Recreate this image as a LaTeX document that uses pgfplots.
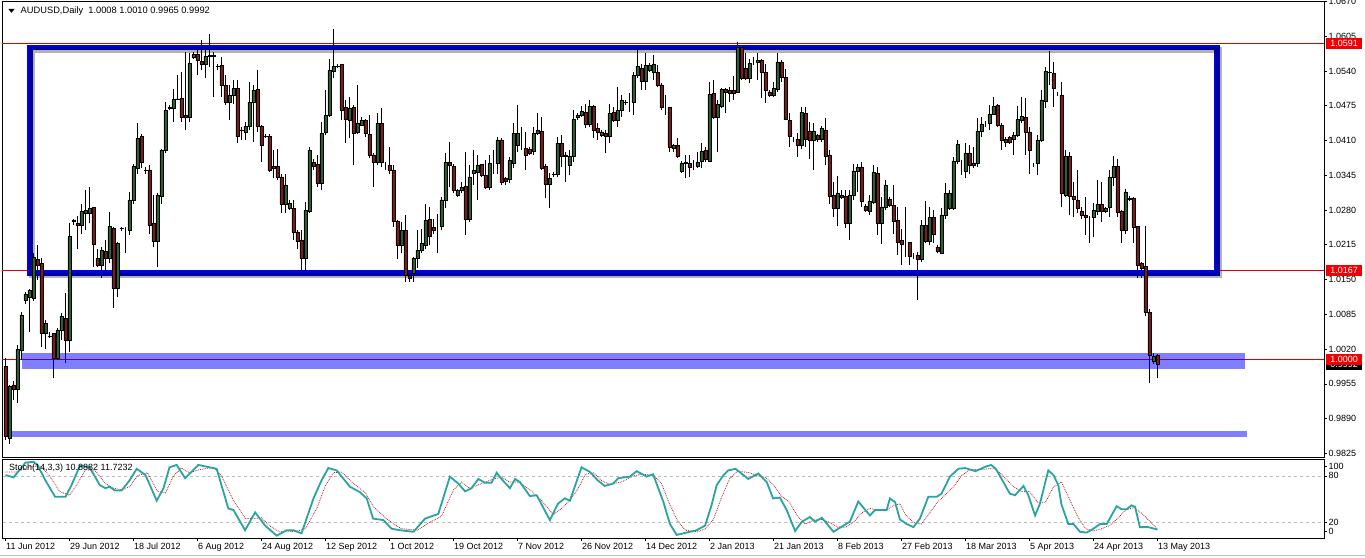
\documentclass[border=0pt]{standalone}
\usepackage{pgfplots}
\pgfplotsset{compat=1.18}
\usepackage{pgfplotstable}
\usepackage{fontspec}
\setmainfont{Liberation Sans}
\definecolor{bull}{RGB}{44,96,46}
\definecolor{bear}{RGB}{132,24,24}
\definecolor{boxblue}{RGB}{0,0,225}
\definecolor{kline}{RGB}{40,165,160}
\definecolor{dline}{RGB}{190,30,30}
\definecolor{lvl}{RGB}{220,0,0}
\definecolor{tagred}{RGB}{240,0,0}

\pgfplotstableread{
i o h l c
0 0.9987 1.0003 0.9850 0.9856
1 0.9854 0.9953 0.9843 0.9951
2 0.9953 0.9961 0.9925 0.9944
3 0.9944 1.0027 0.9919 1.0020
4 1.0018 1.0089 1.0000 1.0084
5 1.0111 1.0126 1.0105 1.0123
6 1.0116 1.0132 1.0051 1.0130
7 1.0115 1.0199 1.0109 1.0192
8 1.0188 1.0215 1.0150 1.0177
9 1.0180 1.0190 1.0024 1.0049
10 1.0049 1.0074 1.0021 1.0068
11 1.0044 1.0051 1.0040 1.0043
12 1.0049 1.0049 0.9965 1.0003
13 1.0003 1.0059 1.0000 1.0056
14 1.0056 1.0087 1.0037 1.0081
15 1.0078 1.0124 0.9993 1.0037
16 1.0037 1.0255 1.0015 1.0230
17 1.0259 1.0264 1.0252 1.0260
18 1.0255 1.0268 1.0208 1.0251
19 1.0251 1.0292 1.0236 1.0277
20 1.0274 1.0317 1.0242 1.0280
21 1.0274 1.0323 1.0255 1.0283
22 1.0285 1.0286 1.0174 1.0215
23 1.0190 1.0208 1.0174 1.0177
24 1.0177 1.0211 1.0152 1.0205
25 1.0202 1.0224 1.0162 1.0190
26 1.0190 1.0277 1.0180 1.0249
27 1.0246 1.0249 1.0096 1.0133
28 1.0133 1.0221 1.0118 1.0218
29 1.0245 1.0249 1.0240 1.0246
30 1.0243 1.0249 1.0199 1.0243
31 1.0243 1.0314 1.0233 1.0299
32 1.0299 1.0367 1.0292 1.0361
33 1.0358 1.0442 1.0348 1.0414
34 1.0417 1.0423 1.0358 1.0370
35 1.0355 1.0361 1.0348 1.0354
36 1.0355 1.0364 1.0236 1.0252
37 1.0255 1.0308 1.0211 1.0221
38 1.0221 1.0311 1.0174 1.0308
39 1.0305 1.0395 1.0292 1.0392
40 1.0392 1.0482 1.0386 1.0467
41 1.0472 1.0476 1.0467 1.0471
42 1.0470 1.0506 1.0445 1.0487
43 1.0487 1.0532 1.0486 1.0488
44 1.0489 1.0538 1.0445 1.0454
45 1.0457 1.0576 1.0429 1.0454
46 1.0454 1.0573 1.0445 1.0554
47 1.0565 1.0576 1.0563 1.0571
48 1.0571 1.0580 1.0532 1.0560
49 1.0558 1.0598 1.0541 1.0552
50 1.0552 1.0580 1.0526 1.0567
51 1.0569 1.0610 1.0548 1.0568
52 1.0567 1.0576 1.0492 1.0569
53 1.0549 1.0554 1.0541 1.0548
54 1.0551 1.0567 1.0492 1.0513
55 1.0513 1.0532 1.0476 1.0482
56 1.0482 1.0513 1.0448 1.0495
57 1.0495 1.0523 1.0479 1.0507
58 1.0507 1.0523 1.0405 1.0417
59 1.0430 1.0436 1.0411 1.0429
60 1.0426 1.0445 1.0411 1.0437
61 1.0437 1.0520 1.0430 1.0482
62 1.0482 1.0513 1.0408 1.0504
63 1.0505 1.0542 1.0426 1.0436
64 1.0436 1.0439 1.0370 1.0401
65 1.0418 1.0423 1.0414 1.0417
66 1.0417 1.0423 1.0352 1.0355
67 1.0361 1.0392 1.0339 1.0358
68 1.0361 1.0395 1.0336 1.0342
69 1.0342 1.0348 1.0274 1.0291
70 1.0291 1.0348 1.0274 1.0327
71 1.0283 1.0299 1.0280 1.0292
72 1.0283 1.0299 1.0224 1.0239
73 1.0239 1.0242 1.0208 1.0221
74 1.0224 1.0242 1.0168 1.0190
75 1.0190 1.0295 1.0168 1.0280
76 1.0277 1.0398 1.0274 1.0392
77 1.0369 1.0375 1.0355 1.0361
78 1.0366 1.0383 1.0324 1.0330
79 1.0330 1.0445 1.0317 1.0423
80 1.0426 1.0504 1.0420 1.0457
81 1.0457 1.0563 1.0454 1.0541
82 1.0540 1.0619 1.0526 1.0548
83 1.0549 1.0554 1.0545 1.0548
84 1.0552 1.0554 1.0448 1.0467
85 1.0472 1.0485 1.0405 1.0449
86 1.0448 1.0492 1.0414 1.0470
87 1.0472 1.0476 1.0364 1.0424
88 1.0426 1.0513 1.0423 1.0443
89 1.0439 1.0454 1.0437 1.0448
90 1.0448 1.0451 1.0417 1.0423
91 1.0422 1.0458 1.0377 1.0383
92 1.0383 1.0386 1.0324 1.0369
93 1.0369 1.0461 1.0364 1.0442
94 1.0442 1.0470 1.0361 1.0369
95 1.0362 1.0370 1.0355 1.0362
96 1.0364 1.0398 1.0348 1.0355
97 1.0355 1.0364 1.0249 1.0258
98 1.0258 1.0261 1.0189 1.0214
99 1.0214 1.0258 1.0199 1.0242
100 1.0242 1.0270 1.0146 1.0158
101 1.0158 1.0161 1.0146 1.0152
102 1.0161 1.0192 1.0146 1.0189
103 1.0189 1.0242 1.0171 1.0205
104 1.0205 1.0245 1.0199 1.0217
105 1.0214 1.0292 1.0208 1.0261
106 1.0262 1.0286 1.0214 1.0230
107 1.0248 1.0264 1.0236 1.0242
108 1.0247 1.0273 1.0199 1.0247
109 1.0249 1.0305 1.0242 1.0299
110 1.0299 1.0386 1.0283 1.0369
111 1.0369 1.0408 1.0323 1.0364
112 1.0362 1.0367 1.0311 1.0317
113 1.0308 1.0320 1.0305 1.0316
114 1.0316 1.0333 1.0311 1.0323
115 1.0325 1.0389 1.0233 1.0262
116 1.0262 1.0364 1.0258 1.0342
117 1.0348 1.0392 1.0327 1.0354
118 1.0351 1.0383 1.0299 1.0364
119 1.0366 1.0367 1.0342 1.0345
120 1.0345 1.0373 1.0320 1.0322
121 1.0322 1.0383 1.0317 1.0367
122 1.0366 1.0392 1.0348 1.0366
123 1.0367 1.0417 1.0348 1.0411
124 1.0411 1.0414 1.0327 1.0331
125 1.0339 1.0342 1.0327 1.0333
126 1.0337 1.0379 1.0330 1.0373
127 1.0367 1.0442 1.0358 1.0424
128 1.0401 1.0476 1.0389 1.0423
129 1.0398 1.0436 1.0392 1.0398
130 1.0395 1.0426 1.0355 1.0383
131 1.0393 1.0398 1.0383 1.0387
132 1.0389 1.0436 1.0383 1.0423
133 1.0423 1.0461 1.0420 1.0429
134 1.0428 1.0454 1.0355 1.0358
135 1.0361 1.0367 1.0302 1.0328
136 1.0328 1.0350 1.0283 1.0339
137 1.0346 1.0351 1.0342 1.0347
138 1.0347 1.0417 1.0342 1.0405
139 1.0405 1.0420 1.0361 1.0381
140 1.0383 1.0389 1.0333 1.0380
141 1.0364 1.0392 1.0345 1.0381
142 1.0381 1.0467 1.0370 1.0449
143 1.0453 1.0462 1.0448 1.0457
144 1.0457 1.0474 1.0454 1.0464
145 1.0462 1.0479 1.0433 1.0441
146 1.0441 1.0486 1.0436 1.0474
147 1.0474 1.0476 1.0414 1.0429
148 1.0433 1.0442 1.0411 1.0426
149 1.0420 1.0430 1.0417 1.0426
150 1.0424 1.0430 1.0386 1.0418
151 1.0418 1.0479 1.0405 1.0461
152 1.0462 1.0473 1.0445 1.0448
153 1.0448 1.0511 1.0436 1.0467
154 1.0467 1.0495 1.0454 1.0486
155 1.0481 1.0486 1.0476 1.0482
156 1.0480 1.0498 1.0464 1.0480
157 1.0482 1.0538 1.0457 1.0532
158 1.0532 1.0580 1.0526 1.0548
159 1.0545 1.0554 1.0504 1.0520
160 1.0520 1.0573 1.0505 1.0551
161 1.0542 1.0555 1.0538 1.0551
162 1.0538 1.0570 1.0523 1.0553
163 1.0538 1.0551 1.0510 1.0514
164 1.0514 1.0517 1.0467 1.0472
165 1.0473 1.0495 1.0457 1.0473
166 1.0472 1.0473 1.0389 1.0398
167 1.0395 1.0404 1.0389 1.0401
168 1.0401 1.0415 1.0377 1.0380
169 1.0353 1.0372 1.0350 1.0367
170 1.0369 1.0383 1.0339 1.0368
171 1.0367 1.0383 1.0342 1.0360
172 1.0362 1.0373 1.0354 1.0362
173 1.0361 1.0389 1.0358 1.0370
174 1.0372 1.0405 1.0358 1.0389
175 1.0392 1.0398 1.0370 1.0375
176 1.0372 1.0520 1.0370 1.0497
177 1.0498 1.0523 1.0451 1.0454
178 1.0454 1.0486 1.0389 1.0478
179 1.0474 1.0509 1.0470 1.0505
180 1.0505 1.0509 1.0462 1.0501
181 1.0504 1.0510 1.0482 1.0499
182 1.0504 1.0530 1.0486 1.0499
183 1.0501 1.0595 1.0498 1.0585
184 1.0585 1.0588 1.0523 1.0526
185 1.0545 1.0573 1.0523 1.0526
186 1.0526 1.0563 1.0517 1.0554
187 1.0556 1.0566 1.0551 1.0556
188 1.0557 1.0574 1.0523 1.0560
189 1.0560 1.0563 1.0489 1.0537
190 1.0538 1.0554 1.0481 1.0503
191 1.0501 1.0504 1.0492 1.0495
192 1.0495 1.0520 1.0492 1.0507
193 1.0505 1.0574 1.0501 1.0557
194 1.0557 1.0560 1.0520 1.0528
195 1.0528 1.0543 1.0448 1.0449
196 1.0447 1.0462 1.0398 1.0418
197 1.0412 1.0417 1.0408 1.0412
198 1.0412 1.0424 1.0380 1.0401
199 1.0401 1.0472 1.0395 1.0462
200 1.0461 1.0472 1.0398 1.0412
201 1.0428 1.0445 1.0375 1.0411
202 1.0411 1.0442 1.0355 1.0428
203 1.0420 1.0423 1.0408 1.0412
204 1.0412 1.0437 1.0408 1.0433
205 1.0430 1.0453 1.0364 1.0381
206 1.0383 1.0393 1.0292 1.0305
207 1.0308 1.0333 1.0267 1.0283
208 1.0283 1.0343 1.0250 1.0312
209 1.0308 1.0317 1.0300 1.0303
210 1.0306 1.0318 1.0246 1.0256
211 1.0256 1.0317 1.0224 1.0308
212 1.0308 1.0367 1.0299 1.0353
213 1.0353 1.0367 1.0314 1.0360
214 1.0360 1.0370 1.0286 1.0296
215 1.0287 1.0291 1.0277 1.0279
216 1.0277 1.0308 1.0271 1.0297
217 1.0295 1.0364 1.0291 1.0350
218 1.0349 1.0361 1.0233 1.0255
219 1.0255 1.0305 1.0217 1.0286
220 1.0286 1.0336 1.0280 1.0327
221 1.0300 1.0305 1.0286 1.0289
222 1.0289 1.0327 1.0236 1.0258
223 1.0260 1.0286 1.0196 1.0219
224 1.0223 1.0244 1.0177 1.0215
225 1.0216 1.0286 1.0193 1.0216
226 1.0219 1.0221 1.0177 1.0194
227 1.0196 1.0199 1.0188 1.0196
228 1.0196 1.0202 1.0112 1.0188
229 1.0188 1.0261 1.0183 1.0252
230 1.0252 1.0297 1.0218 1.0221
231 1.0221 1.0286 1.0214 1.0266
232 1.0266 1.0280 1.0218 1.0235
233 1.0211 1.0214 1.0199 1.0202
234 1.0200 1.0283 1.0199 1.0271
235 1.0271 1.0331 1.0264 1.0311
236 1.0283 1.0317 1.0280 1.0312
237 1.0283 1.0380 1.0280 1.0372
238 1.0372 1.0411 1.0367 1.0403
239 1.0353 1.0374 1.0345 1.0353
240 1.0353 1.0405 1.0339 1.0387
241 1.0387 1.0401 1.0347 1.0364
242 1.0364 1.0398 1.0358 1.0368
243 1.0367 1.0453 1.0361 1.0428
244 1.0428 1.0454 1.0416 1.0441
245 1.0443 1.0447 1.0436 1.0443
246 1.0442 1.0476 1.0430 1.0459
247 1.0459 1.0492 1.0457 1.0474
248 1.0476 1.0478 1.0436 1.0439
249 1.0439 1.0442 1.0392 1.0410
250 1.0412 1.0416 1.0398 1.0406
251 1.0416 1.0418 1.0403 1.0406
252 1.0412 1.0426 1.0383 1.0420
253 1.0420 1.0474 1.0417 1.0449
254 1.0447 1.0492 1.0442 1.0456
255 1.0453 1.0489 1.0383 1.0426
256 1.0426 1.0435 1.0348 1.0392
257 1.0364 1.0368 1.0361 1.0364
258 1.0367 1.0420 1.0345 1.0411
259 1.0411 1.0504 1.0408 1.0486
260 1.0483 1.0548 1.0470 1.0539
261 1.0537 1.0578 1.0514 1.0538
262 1.0535 1.0557 1.0473 1.0507
263 1.0497 1.0501 1.0493 1.0497
264 1.0495 1.0520 1.0286 1.0311
265 1.0308 1.0392 1.0305 1.0381
266 1.0381 1.0389 1.0271 1.0305
267 1.0305 1.0333 1.0267 1.0300
268 1.0299 1.0355 1.0274 1.0283
269 1.0277 1.0286 1.0264 1.0271
270 1.0271 1.0305 1.0233 1.0266
271 1.0267 1.0269 1.0218 1.0267
272 1.0266 1.0294 1.0229 1.0279
273 1.0277 1.0336 1.0271 1.0291
274 1.0291 1.0333 1.0258 1.0277
275 1.0277 1.0286 1.0274 1.0283
276 1.0285 1.0355 1.0267 1.0342
277 1.0341 1.0381 1.0325 1.0362
278 1.0362 1.0376 1.0267 1.0275
279 1.0277 1.0280 1.0218 1.0242
280 1.0242 1.0319 1.0236 1.0314
281 1.0302 1.0306 1.0297 1.0301
282 1.0302 1.0305 1.0218 1.0248
283 1.0249 1.0250 1.0152 1.0177
284 1.0180 1.0183 1.0152 1.0171
285 1.0174 1.0250 1.0081 1.0088
286 1.0088 1.0094 0.9957 1.0009
287 0.9998 1.0012 0.9992 1.0007
288 1.0008 1.0010 0.9965 0.9992
}\candles

\pgfplotstableread{
x k
0 81
2 78
5 97
7 98
8 94
10 74
12.4 53
15 53
16.5 68
18.6 93
21 91
23.6 68
25 64
26 66
27.4 61
29 61
31 74
32.8 89
35 81
37.8 48
39.5 64
41 91
42.8 94
44.9 77
46.5 85
48.2 94
51 91
52.8 89
55.7 38
57 36
59.9 10
62.4 33
64.9 16
67.8 3
70.3 10
72 10
74 6
77 51
79 74
80.7 90
82.8 87
86.1 66
88.6 59
90.3 51
91.9 25
94.5 23
96.5 12
98.6 10
102 8
104.9 25
108.2 31
111.1 79
113.2 70
114.9 60
116.5 64
118.2 76
119.9 71
121.5 71
122.8 84
124 76
126.1 64
127.4 76
128.6 72
131.1 54
132.8 55
136.1 23
138.1 44
139.8 51
141.1 48
144 91
146.1 85
148.1 74
149.8 67
151.9 70
153.2 77
156.1 79
157.8 86
160.3 79
161.9 82
164.5 46
166.1 18
167.8 4
170.3 7
172.8 10
174.9 16
176.5 42
177.8 68
179.5 81
180.7 87
182.5 89
185.7 76
188.2 83
190.3 72
191.9 51
193.6 52
195.3 36
197.4 9
199.1 21
201.1 27
202.4 21
204.1 26
207 8
209.5 16
211.1 21
213.2 47
216.1 29
217.4 36
220.3 36
221.1 51
222.4 46
223.6 24
225.3 18
227 14
228.6 25
230.7 53
232.8 53
234 57
236.1 79
238.2 89
239.9 90
242.5 86
245.1 92
246.4 94
247.6 89
251.1 57
252.4 55
254.5 67
255.7 55
257.4 29
258.6 44
260.7 87
262 81
263.2 68
264 43
265.7 18
267 18
268.6 8
270.3 7
272 12
273.6 18
275.3 18
277.8 41
279 37
280.3 37
281.5 42
282.4 40
283.6 14
285.7 14
288 10.9
}\stochK

\pgfplotstableread{
x d
0 85
3 85
6 92
9 92
11 80
13.5 60
16 55
18 70
20 88
22.5 86
25 70
27 64
29 62
31 66
33 80
35.5 84
38 60
40 58
42 80
44 90
46 84
48.5 88
52 91
54 80
57 48
60 25
62 25
64 26
66 16
68.5 8
71 8
73 9
75 12
78 40
80 68
82 84
84 85
87 70
90 58
92 40
95 26
97 18
99 12
103 10
106 20
109 28
112 62
114 72
116 64
118 68
120 72
122 76
124 78
126 72
128 72
130 66
132 58
134 48
137 30
139 38
141 48
143 62
145 82
147 84
149 74
151 69
154 72
157 80
159 82
162 81
164 70
166 44
168 22
170 10
173 8
175 12
177 24
179 52
181 76
183 86
186 84
188 80
190 78
192 68
194 54
196 46
198 28
200 18
202 23
204 24
206 20
208 14
210 14
212 20
214 32
216 38
218 36
220 35
222 42
223.6 44
225 30
227 20
229 18
231 32
233 46
235 56
237 66
239 80
241 88
244 88
247 90
249 82
252 66
254 60
256 60
258 46
260 46
262 66
264 72
266 50
268 28
270 12
272 9
274 12
276 16
278 25
280 36
282 39
284 32
286 22
288 11.7
}\stochD

\newcommand\lblfont{\fontsize{9}{10.8}\selectfont}
\pgfplotsset{
  base/.style={width=1322pt, scale only axis, xmin=-0.875, xmax=329.625},
  mainy/.style={at={(2pt,-1.5pt)}, anchor=north west, height=455.5pt, ymin=0.98181, ymax=1.0670},
}

\begin{document}
\begin{tikzpicture}
\useasboundingbox (0,0) rectangle (1365pt,-557pt);
\fill[white] (0,0) rectangle (1365pt,-557pt);

% main panel: frame, price scale, level lines, wicks
\begin{axis}[base, mainy,
  axis line style={black, line width=0.8pt},
  xtick=\empty,
  ytick={0.9825,0.9890,0.9955,1.0020,1.0085,1.0150,1.0215,1.0280,1.0345,1.0410,1.0475,1.0540,1.0605,1.0670},
  yticklabels={0.9825,0.9890,0.9955,1.0020,1.0085,1.0150,1.0215,1.0280,1.0345,1.0410,1.0475,1.0540,1.0605,1.0670},
  ytick pos=right, yticklabel pos=right,
  tick align=outside, major tick length=3pt,
  tick style={black, line width=0.6pt},
  yticklabel style={font=\lblfont, anchor=west, inner sep=1pt, xshift=0.5pt},
]
\draw[lvl, line width=1pt] (axis cs:-2,1.0591) -- (axis cs:331,1.0591);
\draw[lvl, line width=1pt] (axis cs:-2,1.0167) -- (axis cs:331,1.0167);
\draw[lvl, line width=1pt] (axis cs:-2,1.0000) -- (axis cs:331,1.0000);
\addplot[draw=none, mark=none, forget plot,
  error bars/.cd, y dir=plus, y explicit, error mark=none,
  error bar style={draw=black, solid, line width=0.9pt}]
  table[x=i, y=l, y error expr={\thisrow{h}-\thisrow{l}}] {\candles};
\coordinate (R1) at (axis cs:329.625,1.0591);
\coordinate (R2) at (axis cs:329.625,1.0167);
\coordinate (R3) at (axis cs:329.625,1.0000);
\coordinate (R4) at (axis cs:329.625,0.9992);
\end{axis}

% candle bodies, box and bands
\begin{axis}[base, mainy, hide axis, ybar stacked, bar width=3pt]
\addplot[draw=none, fill=none] table[x=i, y expr={min(\thisrow{o},\thisrow{c})}] {\candles};
\addplot[draw=black, line width=0.6pt, fill=bull] table[x=i, y expr={max(\thisrow{c}-\thisrow{o},0)}] {\candles};
\addplot[draw=black, line width=0.6pt, fill=bear] table[x=i, y expr={max(\thisrow{o}-\thisrow{c},0)}] {\candles};
\draw[black, opacity=0.3, line width=5.5pt, shift={(2pt,-2.5pt)}] (axis cs:6.07,1.0584) rectangle (axis cs:302.9,1.01624);
\draw[boxblue, line width=5.5pt] (axis cs:6.07,1.0584) rectangle (axis cs:302.9,1.01624);
\fill[blue, opacity=0.5] (axis cs:4.1,1.00125) rectangle (axis cs:309.9,0.99835);
\fill[blue, opacity=0.5] (axis cs:-0.1,0.98667) rectangle (axis cs:310.3,0.98560);
\end{axis}

% stochastic panel
\begin{axis}[base, at={(2pt,-459.5pt)}, anchor=north west, height=78.5pt,
  ymin=0, ymax=101,
  axis line style={black, line width=0.8pt},
  ytick={8.2,20,80,92.4}, yticklabels={0,20,80,100},
  ytick pos=right, yticklabel pos=right,
  xtick={0,16,32,48,64,80,96,112,128,144,160,176,192,208,224,240,256,272,288},
  xticklabels={11 Jun 2012,29 Jun 2012,18 Jul 2012,6 Aug 2012,24 Aug 2012,12 Sep 2012,1 Oct 2012,19 Oct 2012,7 Nov 2012,26 Nov 2012,14 Dec 2012,2 Jan 2013,21 Jan 2013,8 Feb 2013,27 Feb 2013,18 Mar 2013,5 Apr 2013,24 Apr 2013,13 May 2013},
  xtick pos=left,
  tick align=outside, major tick length=3pt,
  tick style={black, line width=0.6pt},
  yticklabel style={font=\lblfont, anchor=west, inner sep=1pt, xshift=0.5pt},
  xticklabel style={font=\lblfont, anchor=north west, inner sep=1pt, xshift=-0.5pt, yshift=-1pt},
]
\draw[gray!55, dashed, line width=0.6pt] (axis cs:-2,80) -- (axis cs:331,80);
\draw[gray!55, dashed, line width=0.6pt] (axis cs:-2,20) -- (axis cs:331,20);
\addplot[dline, densely dotted, line width=0.8pt] table[x=x, y=d] {\stochD};
\addplot[kline, line width=1.8pt] table[x=x, y=k] {\stochK};
\end{axis}

% price tags
\node[fill=black, text=white, font=\lblfont, anchor=west, inner sep=0pt, minimum width=36pt, minimum height=11pt] at ([xshift=2pt]R4) {0.9992};
\node[fill=tagred, text=white, font=\lblfont, anchor=west, inner sep=0pt, minimum width=36pt, minimum height=11pt] at ([xshift=2pt]R3) {1.0000};
\node[fill=tagred, text=white, font=\lblfont, anchor=west, inner sep=0pt, minimum width=36pt, minimum height=11pt] at ([xshift=2pt]R2) {1.0167};
\node[fill=tagred, text=white, font=\lblfont, anchor=west, inner sep=0pt, minimum width=36pt, minimum height=11pt] at ([xshift=2pt]R1) {1.0591};

% titles
\fill[black] (8.3pt,-8.8pt) -- (14.7pt,-8.8pt) -- (11.5pt,-12.8pt) -- cycle;
\node[anchor=west, font=\fontsize{9.3}{11}\selectfont, inner sep=0pt] at (20.5pt,-10.7pt) {AUDUSD,Daily\ \ 1.0008 1.0010 0.9965 0.9992};
\node[anchor=west, font=\lblfont, inner sep=0pt] at (9pt,-468.5pt) {Stoch(14,3,3) 10.8882 11.7232};
\draw[gray!50, line width=1pt] (0,-555.5pt) -- (1365pt,-555.5pt);
\end{tikzpicture}
\end{document}
